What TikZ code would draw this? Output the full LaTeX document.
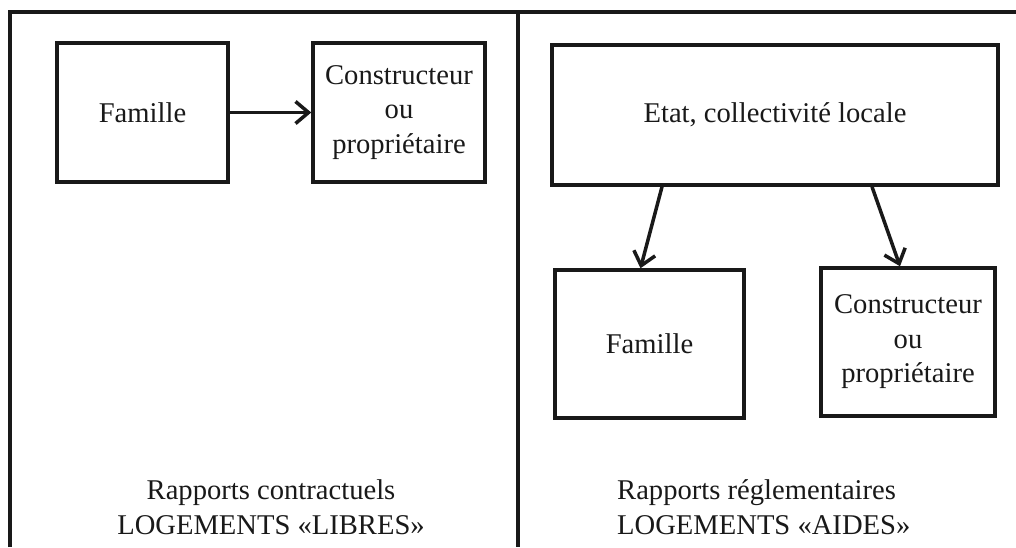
\documentclass[tikz,border=0pt]{standalone}
\usepackage{fontspec}
\setmainfont{Liberation Serif}
\usetikzlibrary{arrows.meta}
\begin{document}
\begin{tikzpicture}[x=1pt,y=-1pt,
  box/.style={draw=black!90, line width=3.5pt, align=center, inner sep=0pt,
    font=\fontsize{28.6}{34.5}\selectfont, text=black!90},
  lbl/.style={align=center, inner sep=0pt, font=\fontsize{28.6}{35}\selectfont, text=black!90},
  arr/.style={draw=black!90, line width=3.5pt, -{Straight Barb[length=13pt,width=22pt,line width=3.5pt]}},
  frame/.style={draw=black!90, line width=3.5pt}]
\useasboundingbox (0,0) rectangle (1016,547);
\fill[white] (0,0) rectangle (1016,547);
% frame
\coordinate (tl) at (10,12);
\coordinate (tr) at (1016,12);
\coordinate (bl) at (10,547);
\coordinate (dt) at (518,12);
\coordinate (db) at (518,547);
\draw[frame] (bl) -- (tl) -- (tr);
\draw[frame] (dt) -- (db);
% left panel
\node[box, minimum width=171pt, minimum height=139pt] (famL) at (142.5,112.5) {Famille};
\node[box, minimum width=172pt, minimum height=139pt] (consL) at (399,112.5) {Constructeur\\ou\\propriétaire};
\draw[arr] (famL) -- (consL);
\node[lbl] (txtL) at (271,507) {Rapports contractuels\\LOGEMENTS «LIBRES»};
% right panel
\node[box, minimum width=446pt, minimum height=140pt] (etat) at (775,115) {Etat, collectivité locale};
\node[box, minimum width=189pt, minimum height=148pt] (famR) at (649.5,344) {Famille};
\node[box, minimum width=174pt, minimum height=148pt] (consR) at (908,342) {Constructeur\\ou\\propriétaire};
\draw[arr] ([xshift=-113pt]etat.south) -- ([xshift=-9pt]famR.north);
\draw[arr] ([xshift=97pt]etat.south) -- ([xshift=-8pt]consR.north);
\node[lbl, align=left, anchor=west] (txtR) at (617,507) {Rapports réglementaires\\LOGEMENTS «AIDES»};
\end{tikzpicture}
\end{document}
